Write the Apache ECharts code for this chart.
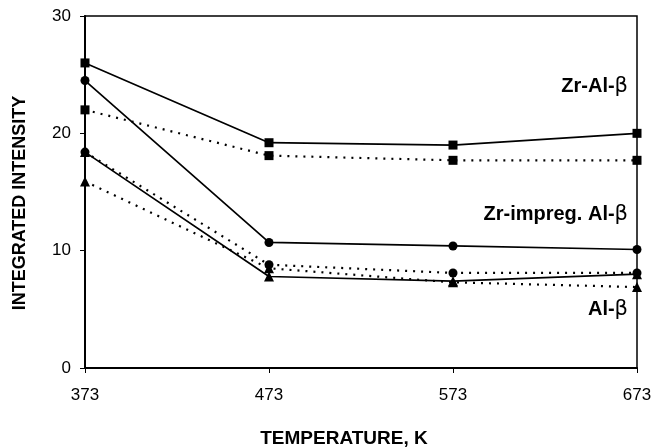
<!DOCTYPE html>
<html>
<head>
<meta charset="utf-8">
<script src="https://cdn.jsdelivr.net/npm/echarts@6/dist/echarts.min.js"></script>
<style>
    html, body { margin: 0; padding: 0; background: #fff; }
    #chart { width: 654px; height: 447px; }
</style>
</head>
<body>
<div id="chart"></div>
<script>
// temperatures (K)
var temps = [373, 473, 573, 673];
var yTicks = [0, 10, 20, 30];

// integrated intensity
var zrAlSolid = [26.0, 19.2, 19.0, 20.0];
var zrAlDotted = [22.0, 18.1, 17.7, 17.7];
var zrImpSolid = [24.5, 10.7, 10.4, 10.1];
var zrImpDotted = [18.4, 8.8, 8.1, 8.1];
var alSolid = [18.4, 7.8, 7.4, 8.0];
var alDotted = [15.9, 8.5, 7.3, 6.9];

var labels = ['Zr-Al-', 'Zr-impreg. Al-', 'Al-'];

function pts(vals) {
    return temps.map(function (t, i) { return [t, vals[i]]; });
}

function line(name, vals, symbol, dotted) {
    return {
        name: name,
        type: 'line',
        data: pts(vals),
        symbol: symbol,
        symbolSize: symbol === 'triangle' ? 10 : 9,
        itemStyle: { color: '#000' },
        lineStyle: {
            color: '#000',
            width: dotted ? 2.2 : 1.7,
            type: dotted ? [2, 6] : 'solid'
        },
        animation: false
    };
}

var chart = echarts.init(document.getElementById('chart'));
var font = '"Liberation Sans", Arial, sans-serif';

function seriesLabel(text, top) {
    return {
        type: 'text', right: 26, top: top,
        style: {
            text: '{a|' + text + '}{b|β}',
            rich: {
                a: { fontFamily: font, fontWeight: 'bold', fontSize: 20, fill: '#000' },
                b: { fontFamily: '"DejaVu Sans", sans-serif', fontWeight: 'normal', fontSize: 21, fill: '#000' }
            }
        }
    };
}

chart.setOption({
    backgroundColor: '#fff',
    grid: {
        left: 85, right: 17, top: 16, bottom: 79,
        outerBoundsMode: 'none',
        show: true, borderColor: '#000', borderWidth: 1.5
    },
    xAxis: {
        type: 'value',
        min: temps[0], max: temps[temps.length - 1], interval: 100,
        name: 'TEMPERATURE, K',
        nameLocation: 'middle', nameGap: 61,
        nameTextStyle: {
            fontFamily: font, fontWeight: 'bold', fontSize: 19, color: '#000',
            padding: [0, 34, 0, 0]
        },
        axisLine: { lineStyle: { color: '#000', width: 2 } },
        axisTick: { show: true, length: 5, lineStyle: { color: '#000' } },
        axisLabel: { margin: 19, fontFamily: font, fontSize: 17, color: '#000' },
        splitLine: { show: false }
    },
    yAxis: {
        type: 'value',
        min: yTicks[0], max: yTicks[yTicks.length - 1], interval: 10,
        name: 'INTEGRATED INTENSITY',
        nameLocation: 'middle', nameGap: 56, nameRotate: 90,
        nameTextStyle: {
            fontFamily: font, fontWeight: 'bold', fontSize: 18, color: '#000',
            padding: [0, 22, 0, 0]
        },
        axisLine: { show: true, lineStyle: { color: '#000', width: 2 } },
        axisTick: { show: true, length: 5, lineStyle: { color: '#000' } },
        axisLabel: { margin: 14, fontFamily: font, fontSize: 17, color: '#000' },
        splitLine: { show: false }
    },
    series: [
        line('Zr-Al-β solid', zrAlSolid, 'rect', false),
        line('Zr-Al-β dotted', zrAlDotted, 'rect', true),
        line('Zr-impreg solid', zrImpSolid, 'circle', false),
        line('Al-β solid', alSolid, 'triangle', false),
        line('Al-β dotted', alDotted, 'triangle', true),
        line('Zr-impreg dotted', zrImpDotted, 'circle', true)
    ],
    graphic: [
        seriesLabel(labels[0], 76),
        seriesLabel(labels[1], 204),
        seriesLabel(labels[2], 299)
    ]
});
</script>
</body>
</html>
